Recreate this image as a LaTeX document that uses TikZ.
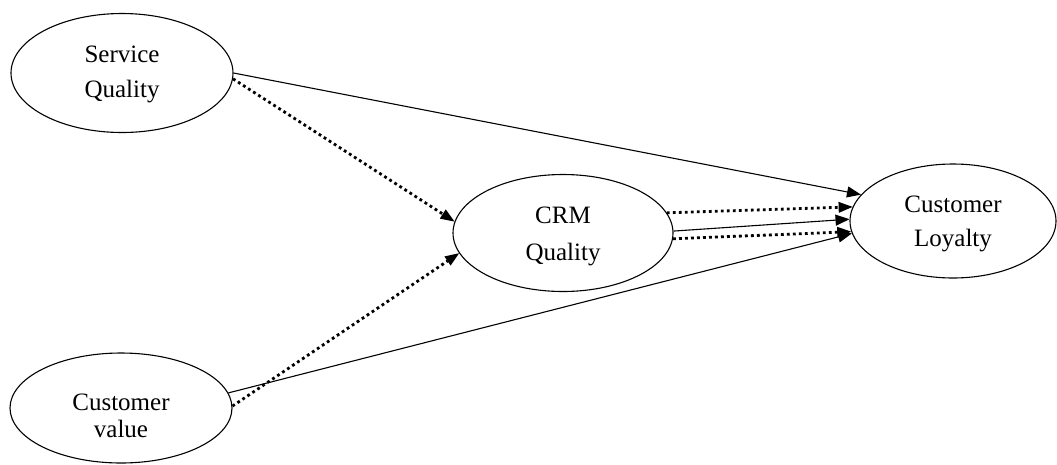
\documentclass[tikz,border=0pt]{standalone}
\usepackage{fontspec}
\setmainfont{Liberation Serif}
\usetikzlibrary{shapes.geometric,arrows.meta}
\begin{document}
\begin{tikzpicture}[x=1pt,y=-1pt,
  ell/.style={draw,ellipse,line width=1.1pt,inner sep=0pt},
  lbl/.style={align=center,inner sep=0pt},
  solidarrow/.style={line width=1.1pt,-{Triangle[length=14pt,width=11pt]}},
  dotarrow/.style={line width=2.8pt,dash pattern=on 2.8pt off 3.2pt,-{Triangle[length=14pt,width=11pt,line width=0pt]}}]
\useasboundingbox (0,0) rectangle (1057,464);
\node[ell,minimum width=222pt,minimum height=119pt] (sq) at (122,73) {};
\node[ell,minimum width=220pt,minimum height=117pt] (crm) at (563,233) {};
\node[ell,minimum width=206pt,minimum height=114pt] (cl) at (953,221) {};
\node[ell,minimum width=222pt,minimum height=110pt] (cv) at (121,408) {};
\node[lbl,font=\fontsize{25}{35}\selectfont] (sqt) at (122,74) {Service\\Quality};
\node[lbl,font=\fontsize{25}{37}\selectfont] (crmt) at (563,236) {CRM\\Quality};
\node[lbl,font=\fontsize{25}{34}\selectfont] (clt) at (953,224) {Customer\\Loyalty};
\node[lbl,font=\fontsize{25}{27}\selectfont] (cvt) at (121,416) {Customer\\value};
\draw[solidarrow] (sq.east) -- (cl.164);
\draw[dotarrow] (sq.-3) -- (crm.174);
\draw[dotarrow] (cv.1.5) -- (crm.-169.6);
\draw[solidarrow] (cv.8) -- (cl.-173);
\draw[dotarrow] (crm.11) -- (cl.172.6);
\draw[solidarrow] (crm.1.6) -- (cl.179);
\draw[dotarrow] (crm.-3) -- (cl.-174);
\end{tikzpicture}
\end{document}
